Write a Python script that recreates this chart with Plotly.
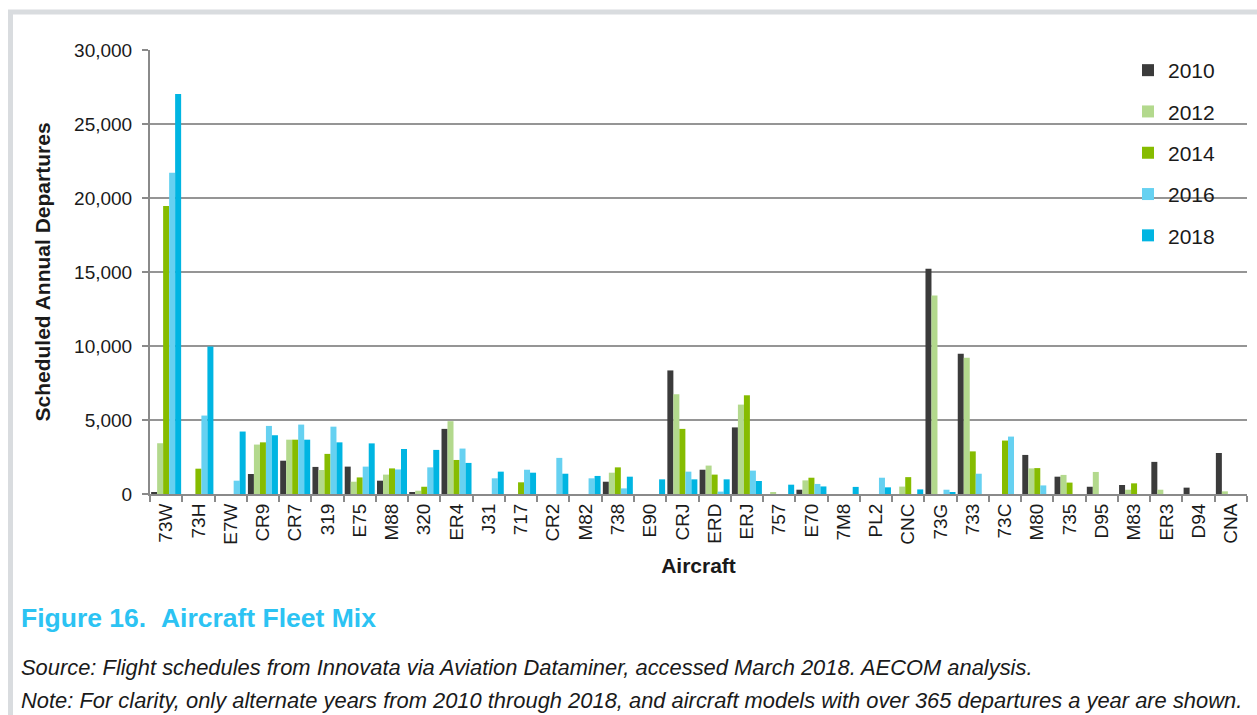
import plotly.graph_objects as go

# Aircraft types, ordered as on the category axis
aircraft = ["73W", "73H", "E7W", "CR9", "CR7", "319", "E75", "M88", "320", "ER4",
            "J31", "717", "CR2", "M82", "738", "E90", "CRJ", "ERD", "ERJ", "757",
            "E70", "7M8", "PL2", "CNC", "73G", "733", "73C", "M80", "735", "D95",
            "M83", "ER3", "D94", "CNA"]

# Scheduled annual departures per aircraft type
dep_2010 = [100, 0, 0, 1350, 2250, 1830, 1850, 900, 110, 4400,
            0, 0, 0, 0, 830, 0, 8350, 1640, 4500, 0,
            290, 0, 0, 0, 15220, 9470, 0, 2640, 1170, 490,
            610, 2170, 430, 2770]
dep_2012 = [3430, 0, 0, 3340, 3670, 1620, 830, 1310, 220, 4920,
            0, 0, 0, 0, 1440, 0, 6740, 1920, 6040, 90,
            920, 0, 0, 500, 13420, 9200, 0, 1730, 1290, 1490,
            290, 290, 0, 180]
dep_2014 = [19460, 1710, 0, 3490, 3670, 2710, 1120, 1730, 490, 2300,
            0, 790, 0, 0, 1800, 0, 4400, 1310, 6670, 0,
            1100, 0, 0, 1140, 0, 2880, 3610, 1750, 770, 0,
            720, 0, 0, 0]
dep_2016 = [21710, 5300, 900, 4600, 4690, 4550, 1850, 1660, 1800, 3070,
            1060, 1640, 2440, 1060, 380, 0, 1510, 160, 1580, 0,
            680, 0, 1100, 0, 290, 1370, 3880, 580, 0, 0,
            0, 0, 0, 0]
dep_2018 = [27030, 9970, 4220, 3970, 3670, 3490, 3420, 3040, 2980, 2100,
            1510, 1440, 1370, 1220, 1170, 990, 990, 990, 880, 630,
            510, 480, 450, 310, 90, 0, 0, 0, 0, 0,
            0, 0, 0, 0]

years = ["2010", "2012", "2014", "2016", "2018"]
series = [dep_2010, dep_2012, dep_2014, dep_2016, dep_2018]
colors = ["#3b3b3b", "#b3d98d", "#86bc00", "#66d1f1", "#00b5e2"]

FONT = "Liberation Sans, Arial, sans-serif"
W, H = 1257, 715
L, R, T, B = 150, 10, 50, 221
PW, PH = W - L - R, H - T - B


def px_x(x):
    return (x - L) / PW


def px_y(y):
    return (H - B - y) / PH


fig = go.Figure()
for name, vals, col in zip(years, series, colors):
    fig.add_trace(go.Bar(
        x=aircraft, y=vals, name=name, legendgroup=name,
        marker=dict(color=col, line=dict(width=0)),
    ))

fig.update_layout(
    width=W, height=H,
    margin=dict(l=L, r=R, t=T, b=B),
    paper_bgcolor="white", plot_bgcolor="white",
    barmode="group", bargap=0.07, bargroupgap=0,
    font=dict(family=FONT, color="#1a1a1a"),
    showlegend=True,
    legend=dict(
        x=px_x(1128), y=px_y(50), xanchor="left", yanchor="top",
        font=dict(size=21, color="#1a1a1a"),
        bgcolor="rgba(0,0,0,0)", traceorder="grouped",
        tracegroupgap=11, itemwidth=30,
    ),
    xaxis=dict(
        type="category",
        showline=True, linecolor="#8a8a8a", linewidth=2,
        ticks="outside", tickson="boundaries", ticklen=6,
        tickcolor="#8a8a8a", tickwidth=2,
        tickangle=-90, tickfont=dict(size=19, color="#1a1a1a"),
        showgrid=False,
        title=dict(text="<b>Aircraft</b>", font=dict(size=21, color="#1a1a1a"),
                   standoff=15),
    ),
    yaxis=dict(
        range=[0, 30000], dtick=5000, tickformat=",",
        showline=True, linecolor="#8a8a8a", linewidth=2,
        ticks="outside", ticklen=6, tickcolor="#8a8a8a", tickwidth=2,
        showgrid=True, gridcolor="#959595", gridwidth=2,
        zeroline=False,
        tickfont=dict(size=19, color="#1a1a1a"),
        ticklabelstandoff=6,
        title=dict(text="<b>Scheduled Annual Departures</b>",
                   font=dict(size=21, color="#1a1a1a"), standoff=18),
    ),
)

# light gray frame along the top and left of the page
fig.add_shape(
    type="rect", xref="paper", yref="paper",
    x0=px_x(10.5), x1=px_x(1400), y0=px_y(900), y1=px_y(12),
    line=dict(color="#d9dcdf", width=5), fillcolor="rgba(0,0,0,0)",
    layer="below",
)

fig.add_annotation(
    text="<b>Figure 16.&nbsp;&nbsp;Aircraft Fleet Mix</b>",
    xref="paper", yref="paper", x=px_x(19), y=px_y(618),
    xanchor="left", yanchor="middle", showarrow=False,
    font=dict(size=26.5, color="#2cc3f3", family=FONT),
)
fig.add_annotation(
    text="<i>Source: Flight schedules from Innovata via Aviation Dataminer, accessed March 2018. AECOM analysis.</i>",
    xref="paper", yref="paper", x=px_x(19), y=px_y(667),
    xanchor="left", yanchor="middle", showarrow=False,
    font=dict(size=21.9, color="#1a1a1a", family=FONT),
)
fig.add_annotation(
    text="<i>Note: For clarity, only alternate years from 2010 through 2018, and aircraft models with over 365 departures a year are shown.</i>",
    xref="paper", yref="paper", x=px_x(19), y=px_y(700),
    xanchor="left", yanchor="middle", showarrow=False,
    font=dict(size=21.9, color="#1a1a1a", family=FONT),
)

fig.write_html("out.html")
